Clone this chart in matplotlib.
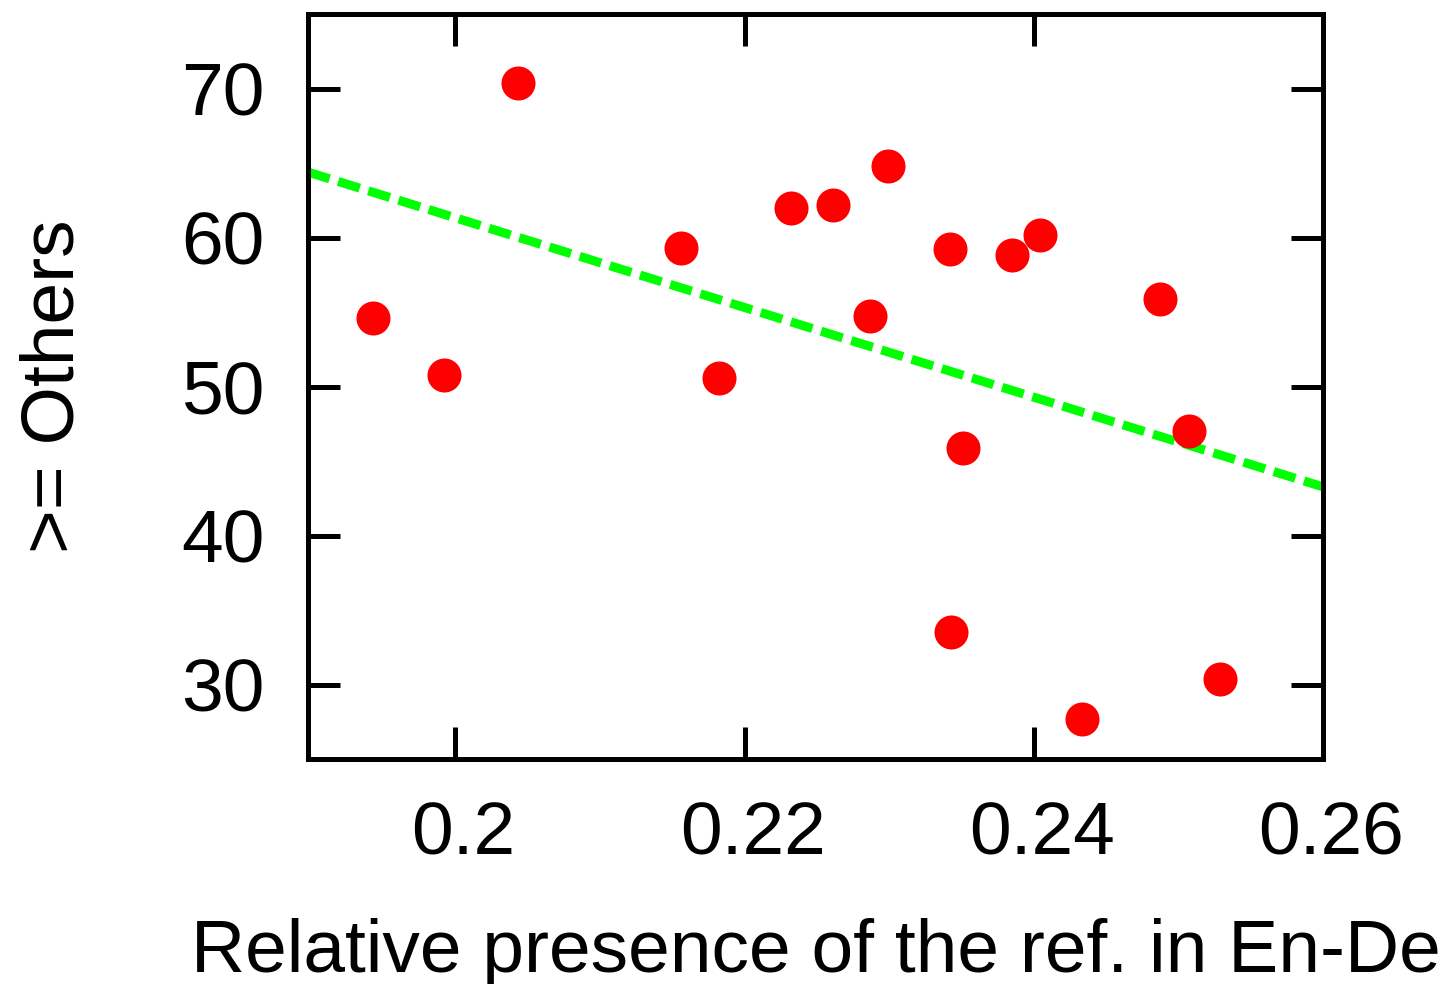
import matplotlib
matplotlib.use('Agg')
import matplotlib.pyplot as plt
import matplotlib.transforms as mtransforms
import numpy as np

plt.rcParams['font.family'] = ['Liberation Sans', 'DejaVu Sans']

# relative presence of the reference (x) vs ">= Others" score (y)
presence = [0.1943, 0.1992, 0.2043, 0.2156, 0.2182, 0.2232, 0.2261, 0.2287, 0.2299,
            0.2342, 0.2351, 0.2343, 0.2385, 0.2404, 0.2433, 0.2487, 0.2507, 0.2529]
others = [54.6, 50.8, 70.4, 59.3, 50.6, 62.0, 62.2, 54.7, 64.8,
          59.2, 45.9, 33.5, 58.8, 60.2, 27.7, 55.9, 47.0, 30.4]

x_ticks = [0.2, 0.22, 0.24, 0.26]
x_tick_labels = ['0.2', '0.22', '0.24', '0.26']
y_ticks = [30, 40, 50, 60, 70]

xlim = (0.1898, 0.26)
ylim = (25, 75)

W, H = 1444, 984
fig = plt.figure(figsize=(W / 100, H / 100), dpi=100)
ax = fig.add_axes([308 / W, 1 - 759 / H, (1323 - 308) / W, (759 - 14) / H])

# linear fit through the points
slope, intercept = np.polyfit(presence, others, 1)
fx = np.array(xlim)
ax.plot(fx, slope * fx + intercept, color='#00ff00', lw=6.5, ls=(0, (2.5, 1.0)),
        dash_capstyle='butt', zorder=2)

ax.plot(presence, others, 'o', color='#ff0000', markersize=24.5, mew=0, zorder=3)

ax.set_xlim(*xlim)
ax.set_ylim(*ylim)
ax.set_xticks(x_ticks)
ax.set_xticklabels(x_tick_labels)
ax.set_yticks(y_ticks)

fs = 54
ax.tick_params(direction='in', length=23, width=3.6, labelsize=fs,
               top=True, right=True)
ax.tick_params(axis='x', pad=30)
ax.tick_params(axis='y', pad=31)
for s in ax.spines.values():
    s.set_linewidth(3.6)

# gnuplot puts the x labels a little right of the ticks
shift = mtransforms.ScaledTranslation(8 / 100, 0, fig.dpi_scale_trans)
for lab in ax.get_xticklabels():
    lab.set_transform(lab.get_transform() + shift)

ax.set_xlabel('Relative presence of the ref. in En-De', fontsize=fs, va='baseline')
ax.xaxis.set_label_coords(0.5, (759 - 972) / 745)
ax.set_ylabel('>= Others', fontsize=fs, va='baseline', ha='center', rotation_mode='anchor')
ax.yaxis.set_label_coords((73 - 308) / 1015, 0.5)

fig.savefig('out.png', dpi=100)
